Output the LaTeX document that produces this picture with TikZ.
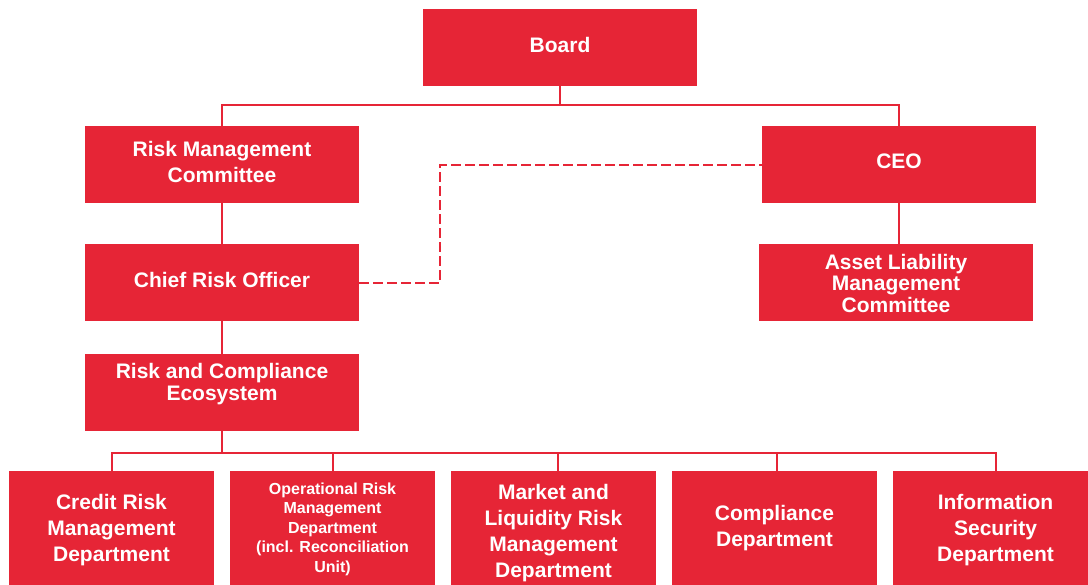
\documentclass[tikz,border=0pt]{standalone}
\usepackage{fontspec}
\setmainfont{Liberation Sans}
\definecolor{rred}{RGB}{230,37,54}
\begin{document}
\begin{tikzpicture}[x=1pt,y=-1pt,
  box/.style={fill=rred, draw=none, inner sep=0pt, outer sep=0pt,
    minimum width=274pt, minimum height=77pt, text=white,
    font=\bfseries\fontsize{21}{26}\selectfont, align=center},
  raised/.style={execute at end node={\rule[-7pt]{0pt}{0pt}}},
  lowbox/.style={box, minimum width=205pt, minimum height=114pt},
  conn/.style={draw=rred, line width=2pt},
  dashconn/.style={conn, dash pattern=on 10pt off 4pt}]
\useasboundingbox (0,0) rectangle (1088,585);
\clip (0,0) rectangle (1088,585);
% top level
\node[box, raised] (board) at (560,48) {Board};
\node[box, raised] (rmc) at (222,165) {Risk Management\\Committee};
\node[box, raised] (ceo) at (899,165) {CEO};
\node[box, raised] (cro) at (222,283) {Chief Risk Officer};
\node[box, font=\bfseries\fontsize{21}{21.5}\selectfont] (alm) at (896,283) {Asset Liability\\Management\\Committee};
\node[box, font=\bfseries\fontsize{21}{22}\selectfont] (rce) at (222,393) {Risk and Compliance\\Ecosystem\\\mbox{}};
% departments
\node[lowbox] (crd) at (111.5,528) {\rule{0pt}{20pt}Credit Risk\\Management\\Department};
\node[lowbox, font=\bfseries\fontsize{16}{19.5}\selectfont] (opr) at (332.5,528) {\rule{0pt}{14pt}Operational Risk\\Management\\Department\\(incl. Reconciliation\\Unit)};
\node[lowbox] (mkt) at (553.5,528) {\rule{0pt}{25pt}Market and\\Liquidity Risk\\Management\\Department};
\node[lowbox] (cmp) at (774.5,528) {Compliance\\Department};
\node[lowbox] (isd) at (995.5,528) {\rule{0pt}{20pt}Information\\Security\\Department};
% connectors
\draw[conn] (board.south) -- ++(0,19) coordinate (tj);
\draw[conn] (rmc.north) |- (tj) -| (ceo.north);
\draw[conn] (rmc) -- (cro);
\draw[conn] (cro) -- (rce);
\draw[conn] (ceo.south) -- (ceo.south |- alm.north);
\draw[dashconn] (cro.east) -- ++(81,0) |- (ceo.west);
\draw[conn] (rce.south) -- ++(0,22) coordinate (bj);
\draw[conn] (crd.north) |- (bj) -| (isd.north);
\draw[conn] (opr.north) -- (opr.north |- bj);
\draw[conn] ([xshift=4pt]mkt.north) -- ([xshift=4pt]mkt.north |- bj);
\draw[conn] ([xshift=2pt]cmp.north) -- ([xshift=2pt]cmp.north |- bj);
\end{tikzpicture}
\end{document}
